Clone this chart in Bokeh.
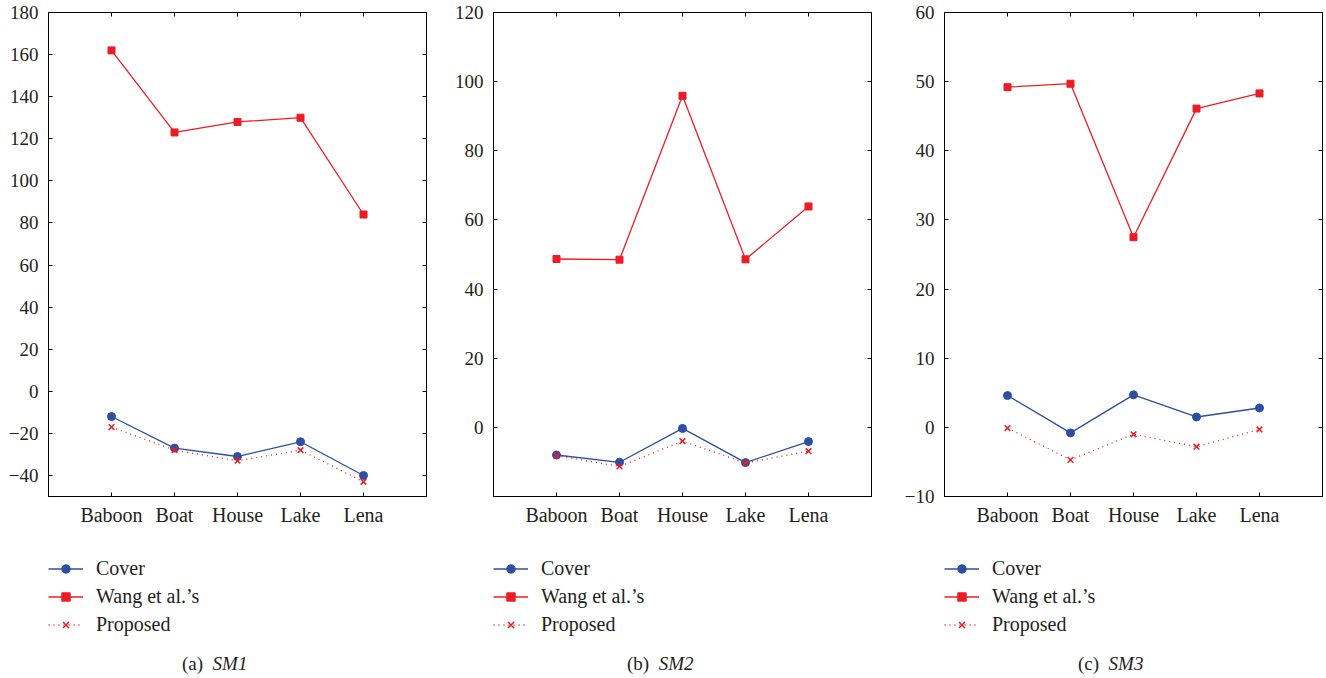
from bokeh.plotting import figure
from bokeh.models import (Range1d, FactorRange, FixedTicker, LinearAxis, CategoricalAxis,
                          Legend, LegendItem, Div)
from bokeh.layouts import row, column
from bokeh.embed import file_html
from bokeh.resources import INLINE

categories = ["Baboon", "Boat", "House", "Lake", "Lena"]
series_names = ["Cover", "Wang et al.\u2019s", "Proposed"]

sm1_cover = [-12, -27, -31, -24, -40]
sm1_wang = [162, 123, 128, 130, 84]
sm1_proposed = [-17, -28, -33, -28, -43]

sm2_cover = [-8.0, -10.1, -0.3, -10.2, -4.1]
sm2_wang = [48.7, 48.5, 95.9, 48.6, 63.9]
sm2_proposed = [-8.2, -11.3, -4.0, -10.3, -6.9]

sm3_cover = [4.6, -0.8, 4.7, 1.5, 2.8]
sm3_wang = [49.2, 49.7, 27.5, 46.1, 48.3]
sm3_proposed = [-0.1, -4.7, -1.0, -2.8, -0.3]

sm1_yticks = [-40, -20, 0, 20, 40, 60, 80, 100, 120, 140, 160, 180]
sm2_yticks = [0, 20, 40, 60, 80, 100, 120]
sm3_yticks = [-10, 0, 10, 20, 30, 40, 50, 60]

captions = [("(a)", "SM1"), ("(b)", "SM2"), ("(c)", "SM3")]

BLUE = "#2c4ea3"
RED = "#ed1c24"
TXT = "#231f20"
FONT = "Liberation Serif"

STYLE_COVER = dict(line_color=BLUE, line_width=1.3)
STYLE_WANG = dict(line_color=RED, line_width=1.3)
STYLE_PROP = dict(line_color=RED, line_width=1.3, line_dash="1 4")
MK_COVER = dict(marker="circle", size=8, fill_color=BLUE, line_color=BLUE)
MK_WANG = dict(marker="square", size=7, fill_color=RED, line_color=RED)
MK_PROP = dict(marker="x", size=8, line_color=RED, line_width=1.5)


def style_axis(ax, size="19px", hide_labels=False):
    ax.major_tick_in = 4
    ax.major_tick_out = 0
    ax.minor_tick_line_color = None
    ax.axis_line_color = "black"
    ax.major_tick_line_color = "black"
    ax.major_label_text_font = FONT
    ax.major_label_text_color = TXT
    if hide_labels:
        ax.major_label_text_font_size = "1px"
        ax.major_label_text_color = None
        ax.major_label_standoff = 0
    else:
        ax.major_label_text_font_size = size


def add_series(fig, cover, wang, proposed):
    l1 = fig.line(categories, cover, **STYLE_COVER)
    m1 = fig.scatter(categories, cover, **MK_COVER)
    l2 = fig.line(categories, wang, **STYLE_WANG)
    m2 = fig.scatter(categories, wang, **MK_WANG)
    l3 = fig.line(categories, proposed, **STYLE_PROP)
    m3 = fig.scatter(categories, proposed, **MK_PROP)
    return [(l1, m1), (l2, m2), (l3, m3)]


def make_panel(cover, wang, proposed, y0, y1, yticks, width, br, leg_left, caption):
    p = figure(x_range=FactorRange(*categories, range_padding=0.5, range_padding_units="absolute"),
               y_range=Range1d(y0, y1), width=width, height=530,
               min_border_left=48, min_border_right=br,
               min_border_top=12, min_border_bottom=34,
               output_backend="svg", toolbar_location=None)
    p.grid.visible = False
    p.outline_line_color = "black"
    p.outline_line_width = 1

    p.yaxis.ticker = FixedTicker(ticks=yticks)
    p.yaxis.major_label_overrides = {t: ("\u2212" + str(-t)) for t in yticks if t < 0}
    style_axis(p.yaxis[0], "19px")
    style_axis(p.xaxis[0], "20px")
    p.yaxis.major_label_standoff = 10
    p.xaxis.major_label_standoff = 7

    top = CategoricalAxis()
    style_axis(top, hide_labels=True)
    p.add_layout(top, "above")
    right = LinearAxis(ticker=FixedTicker(ticks=yticks))
    style_axis(right, hide_labels=True)
    p.add_layout(right, "right")

    add_series(p, cover, wang, proposed)

    # key figure: same series, kept outside its visible y-range, only the legend shows
    lg = figure(width=width, height=125, x_range=FactorRange(*categories),
                y_range=Range1d(1000, 1001),
                min_border_left=leg_left, min_border_top=27, min_border_right=0,
                min_border_bottom=0, output_backend="svg", toolbar_location=None)
    lg.axis.visible = False
    lg.grid.visible = False
    lg.outline_line_color = None
    rs = add_series(lg, cover, wang, proposed)
    legend = Legend(items=[LegendItem(label=name, renderers=list(r))
                           for name, r in zip(series_names, rs)],
                    location="top_left", orientation="vertical", margin=0, padding=0,
                    border_line_color=None, background_fill_alpha=0,
                    label_text_font=FONT, label_text_font_size="20px", label_text_color=TXT,
                    glyph_width=35, glyph_height=21, label_height=21,
                    label_standoff=13, spacing=5)
    lg.add_layout(legend, "center")

    div = Div(text=f"{caption[0]}&nbsp;&nbsp;<i>{caption[1]}</i>", width=width, height=18,
              margin=(0, 0, 0, 0),
              styles={"font-family": FONT, "font-size": "19px", "line-height": "18px",
                      "color": TXT, "padding-left": "182px", "white-space": "nowrap"})
    return column(p, lg, div, spacing=0)


c1 = make_panel(sm1_cover, sm1_wang, sm1_proposed, -50, 180, sm1_yticks, 445, 19, 47, captions[0])
c2 = make_panel(sm2_cover, sm2_wang, sm2_proposed, -20, 120, sm2_yticks, 451, 25, 48, captions[1])
c3 = make_panel(sm3_cover, sm3_wang, sm3_proposed, -10, 60, sm3_yticks, 430, 4, 47, captions[2])

layout = row(c1, c2, c3, spacing=0)
open("out.html", "w").write(file_html(layout, INLINE))
